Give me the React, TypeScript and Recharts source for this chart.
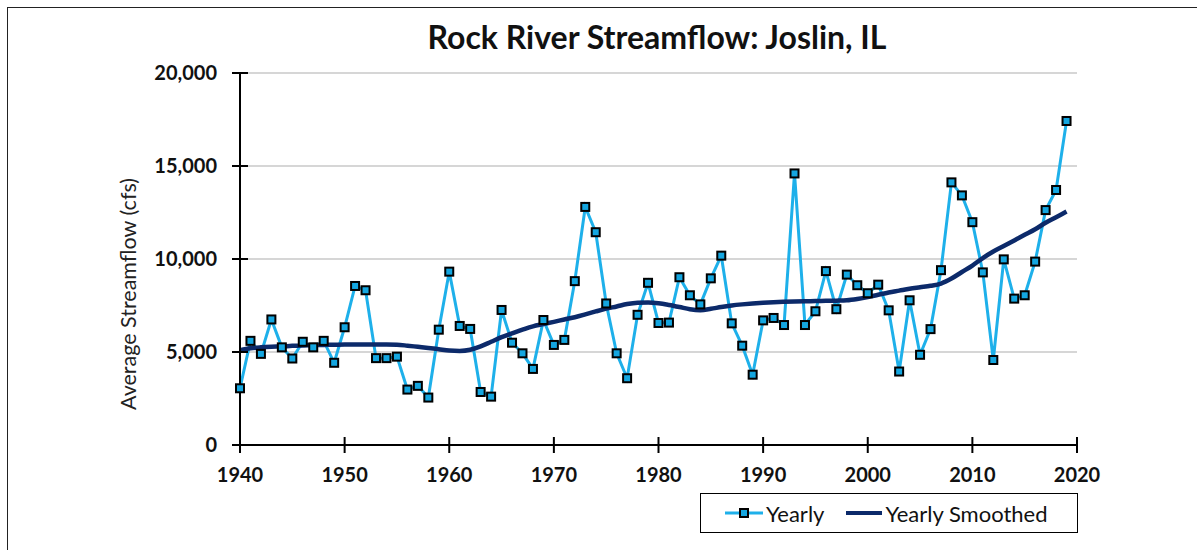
import { CartesianGrid, Legend, Line, LineChart, XAxis, YAxis } from 'recharts';

const years = [
  1940, 1941, 1942, 1943, 1944, 1945, 1946, 1947, 1948, 1949,
  1950, 1951, 1952, 1953, 1954, 1955, 1956, 1957, 1958, 1959,
  1960, 1961, 1962, 1963, 1964, 1965, 1966, 1967, 1968, 1969,
  1970, 1971, 1972, 1973, 1974, 1975, 1976, 1977, 1978, 1979,
  1980, 1981, 1982, 1983, 1984, 1985, 1986, 1987, 1988, 1989,
  1990, 1991, 1992, 1993, 1994, 1995, 1996, 1997, 1998, 1999,
  2000, 2001, 2002, 2003, 2004, 2005, 2006, 2007, 2008, 2009,
  2010, 2011, 2012, 2013, 2014, 2015, 2016, 2017, 2018, 2019
];

const yearly = [
  3050, 5600, 4900, 6750, 5250, 4650, 5550, 5250, 5600, 4420,
  6330, 8550, 8320, 4670, 4670, 4750, 2980, 3180, 2550, 6200,
  9320, 6400, 6240, 2850, 2600, 7260, 5500, 4930, 4090, 6720,
  5380, 5650, 8810, 12800, 11440, 7610, 4930, 3590, 7000, 8720,
  6560, 6580, 9020, 8050, 7560, 8960, 10180, 6540, 5340, 3780,
  6700, 6830, 6450, 14600, 6450, 7190, 9350, 7300, 9160, 8590,
  8160, 8620, 7240, 3950, 7780, 4850, 6230, 9400, 14120, 13420,
  11980, 9280, 4570, 9980, 7870, 8050, 9860, 12630, 13710, 17420
];

const smoothed = [
  5100, 5200, 5250, 5280, 5300, 5330, 5350, 5370, 5380, 5390,
  5400, 5400, 5400, 5400, 5400, 5390, 5340, 5280, 5220, 5150,
  5080, 5060, 5120, 5300, 5550, 5800, 6000, 6200, 6380, 6500,
  6620, 6750, 6870, 7020, 7180, 7330, 7450, 7580, 7650, 7660,
  7620, 7530, 7420, 7300, 7250, 7320, 7420, 7500, 7560, 7610,
  7650, 7680, 7700, 7720, 7730, 7740, 7750, 7760, 7780, 7850,
  7950, 8080, 8200, 8300, 8400, 8480, 8560, 8680, 8950, 9300,
  9650, 10050, 10400, 10700, 11000, 11300, 11600, 11950, 12250, 12550
];

const xTicks = [1940, 1950, 1960, 1970, 1980, 1990, 2000, 2010, 2020];
const yTicks = [0, 5000, 10000, 15000, 20000];

const data = years.map((year, i) => ({ year, yearly: yearly[i], smoothed: smoothed[i] }));

const FONT = 'Lato, "Open Sans", sans-serif';
const LIGHT = '#1eb0ea';
const DARK = '#0c2a6a';
const TICK = 8;
const Y_GAP = 15;
const X_GAP = 4;

const YTick = ({ x, y, payload }: any) => (
  <g>
    <line x1={x + Y_GAP} x2={x + Y_GAP + 2 * TICK} y1={y} y2={y} stroke="#000" strokeWidth={2} />
    <text x={x} y={y} dy={7} textAnchor="end" fontFamily={FONT} fontWeight={700} fontSize={20} fill="#111">
      {payload.value.toLocaleString('en-US')}
    </text>
  </g>
);

const XTick = ({ x, y, payload }: any) => (
  <g>
    <line x1={x} x2={x} y1={y - X_GAP} y2={y - X_GAP - 2 * TICK} stroke="#000" strokeWidth={2} />
    <text x={x} y={y} dy={25} textAnchor="middle" fontFamily={FONT} fontWeight={700} fontSize={20} fill="#111">
      {payload.value}
    </text>
  </g>
);

const SquareDot = ({ cx, cy }: any) => (
  <rect x={cx - 4} y={cy - 4} width={8} height={8} fill="#14a6e0" stroke="#000" strokeWidth={2} />
);

const renderLegend = () => (
  <div
    style={{
      boxSizing: 'border-box',
      width: 378,
      height: 40,
      border: '1.5px solid #000',
      background: '#fff',
      display: 'flex',
      alignItems: 'center',
      paddingLeft: 24,
      fontFamily: FONT,
      fontSize: 22,
      color: '#111'
    }}
  >
    <svg width={38} height={16}>
      <line x1={0} x2={38} y1={8} y2={8} stroke={LIGHT} strokeWidth={3} />
      <rect x={15} y={4} width={8} height={8} fill="#14a6e0" stroke="#000" strokeWidth={2} />
    </svg>
    <span style={{ marginLeft: 3 }}>Yearly</span>
    <svg width={36} height={16} style={{ marginLeft: 22 }}>
      <line x1={0} x2={36} y1={8} y2={8} stroke={DARK} strokeWidth={4} />
    </svg>
    <span style={{ marginLeft: 3 }}>Yearly Smoothed</span>
  </div>
);

export default function App() {
  return (
    <div style={{ position: 'absolute', left: 0, top: 0, width: 1197, height: 550, background: '#fff', overflow: 'hidden' }}>
      <div
        style={{
          position: 'absolute',
          left: 7,
          top: 7,
          width: 1300,
          height: 700,
          borderLeft: '1.5px solid #222',
          borderTop: '1.5px solid #222'
        }}
      />
      <div
        style={{
          position: 'absolute',
          left: 0,
          width: 1314,
          top: 17,
          textAlign: 'center',
          fontFamily: FONT,
          fontWeight: 700,
          fontSize: 32,
          color: '#111'
        }}
      >
        Rock River Streamflow: Joslin, IL
      </div>
      <div
        style={{
          position: 'absolute',
          left: 128,
          top: 294,
          transform: 'translate(-50%, -50%) rotate(-90deg)',
          whiteSpace: 'nowrap',
          fontFamily: FONT,
          fontSize: 21.5,
          color: '#222'
        }}
      >
        Average Streamflow (cfs)
      </div>
      <LineChart width={1197} height={550} data={data} margin={{ top: 73, right: 120, bottom: 65, left: 160 }}>
        <CartesianGrid vertical={false} stroke="#c9c9c9" strokeWidth={1.5} />
        <XAxis
          dataKey="year"
          type="number"
          domain={[1940, 2020]}
          ticks={xTicks}
          height={40}
          tickSize={TICK}
          tickMargin={X_GAP}
          tickLine={false}
          axisLine={{ stroke: '#000', strokeWidth: 2 }}
          tick={<XTick />}
        />
        <YAxis
          type="number"
          domain={[0, 20000]}
          ticks={yTicks}
          width={80}
          tickSize={TICK}
          tickMargin={Y_GAP}
          tickLine={false}
          axisLine={{ stroke: '#000', strokeWidth: 2 }}
          tick={<YTick />}
        />
        <Legend
          layout="horizontal"
          verticalAlign="middle"
          align="center"
          content={renderLegend}
          wrapperStyle={{ left: 700, top: 493, width: 378, height: 40 }}
        />
        <Line
          dataKey="yearly"
          name="Yearly"
          type="linear"
          stroke={LIGHT}
          strokeWidth={3}
          dot={<SquareDot />}
          activeDot={false}
          isAnimationActive={false}
        />
        <Line
          dataKey="smoothed"
          name="Yearly Smoothed"
          type="monotone"
          stroke={DARK}
          strokeWidth={4.5}
          dot={false}
          activeDot={false}
          isAnimationActive={false}
        />
      </LineChart>
    </div>
  );
}
